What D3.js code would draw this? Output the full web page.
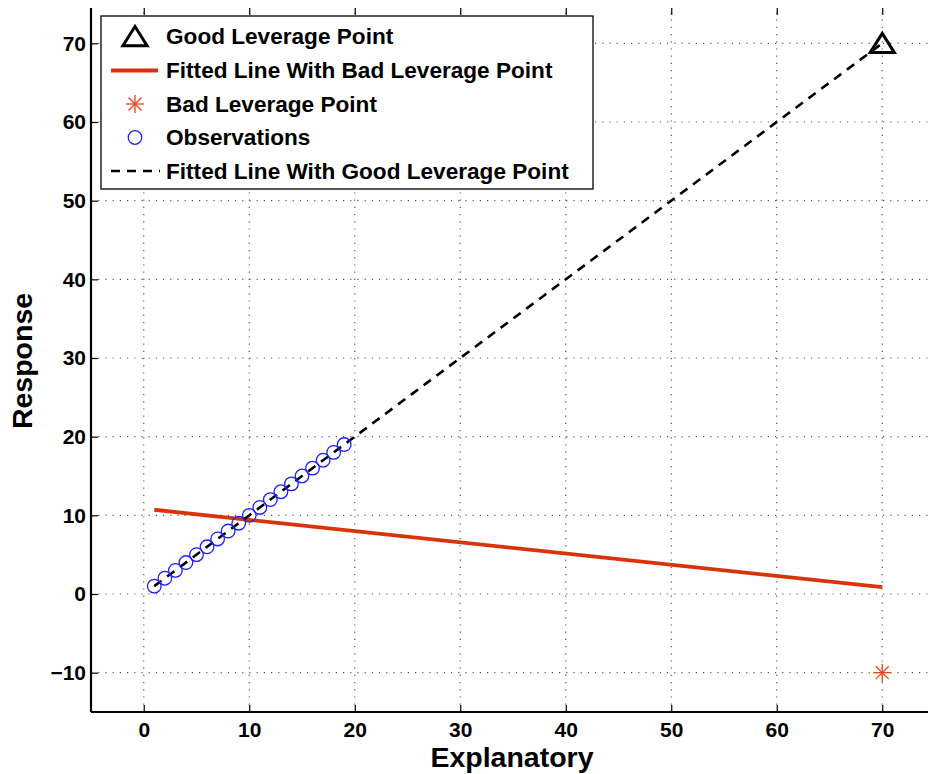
<!DOCTYPE html>
<html>
<head>
<meta charset="utf-8">
<script src="https://cdn.jsdelivr.net/npm/d3@7"></script>
<style>
  html, body { margin: 0; padding: 0; background: #fff; }
  svg { display: block; font-family: "Liberation Sans", Arial, sans-serif; }
</style>
</head>
<body>
<svg id="chart" width="928" height="774"></svg>
<script>
// Observations: x = 1..19 with response equal to x
const obsX = [1, 2, 3, 4, 5, 6, 7, 8, 9, 10, 11, 12, 13, 14, 15, 16, 17, 18, 19];
const obsY = [1, 2, 3, 4, 5, 6, 7, 8, 9, 10, 11, 12, 13, 14, 15, 16, 17, 18, 19];
// Leverage points
const goodPoint = [70, 70];
const badPoint = [70, -10];
// Fitted lines (endpoints of each least-squares fit)
const fitGoodX = [1, 70];
const fitGoodY = [1, 70];
const fitBadX = [1, 70];
const fitBadY = [10.71, 0.86];
// Axis ticks
const xTicks = [0, 10, 20, 30, 40, 50, 60, 70];
const yTicks = [-10, 0, 10, 20, 30, 40, 50, 60, 70];
const legendLabels = [
  "Good Leverage Point",
  "Fitted Line With Bad Leverage Point",
  "Bad Leverage Point",
  "Observations",
  "Fitted Line With Good Leverage Point"
];

const RED = "#d9330a";
const STAR = "#e8441c";
const BLUE = "#1f1fff";
const FONT = "Liberation Sans, Arial, sans-serif";

const svg = d3.select("#chart");
const x = d3.scaleLinear().domain([-5, 75]).range([91, 935]);
const y = d3.scaleLinear().domain([-15, 75]).range([712, 4]);
const plotLeft = 91, plotBottom = 712, plotTop = 8;

// dotted grid
const grid = svg.append("g").attr("stroke", "#555").attr("stroke-width", 1.2)
  .attr("stroke-dasharray", "1.2,6");
grid.selectAll("line.gx").data(xTicks).join("line").attr("class", "gx")
  .attr("x1", d => x(d)).attr("x2", d => x(d))
  .attr("y1", plotBottom).attr("y2", plotTop);
grid.selectAll("line.gy").data(yTicks).join("line").attr("class", "gy")
  .attr("y1", d => y(d)).attr("y2", d => y(d))
  .attr("x1", plotLeft).attr("x2", 928);

// axes
const xAxis = d3.axisBottom(x).tickValues(xTicks).tickSize(-7).tickPadding(10)
  .tickFormat(d3.format("d"));
const gx = svg.append("g").attr("transform", `translate(0,${plotBottom})`).call(xAxis);
const xAxisTop = d3.axisTop(x).tickValues(xTicks).tickSize(-7).tickFormat("");
const gxt = svg.append("g").attr("transform", `translate(0,${plotTop})`).call(xAxisTop);
gxt.select(".domain").remove();

const yAxis = d3.axisLeft(y).tickValues(yTicks).tickSize(-7).tickPadding(5)
  .tickFormat(d => d < 0 ? "\u2212" + Math.abs(d) : d);
const gy = svg.append("g").attr("transform", `translate(${plotLeft},0)`).call(yAxis);

[gx, gy].forEach(g => {
  g.select(".domain").attr("stroke", "#000").attr("stroke-width", 2.2);
  g.selectAll(".tick text").attr("font-size", 21).attr("font-weight", "bold")
    .attr("fill", "#000").attr("font-family", FONT);
});
gx.select(".domain").attr("d", `M${plotLeft},0H928`);
gy.select(".domain").attr("d", `M0,${plotBottom}V${plotTop}`);
svg.selectAll(".tick line").attr("stroke", "#000").attr("stroke-width", 1.2);

// fitted line with bad leverage point
const line = d3.line().x(d => x(d[0])).y(d => y(d[1]));
svg.append("path")
  .datum(d3.zip(fitBadX, fitBadY))
  .attr("d", line).attr("fill", "none").attr("stroke", RED).attr("stroke-width", 3.8);

// fitted line with good leverage point
svg.append("path")
  .datum(d3.zip(fitGoodX, fitGoodY))
  .attr("d", line).attr("fill", "none").attr("stroke", "#000")
  .attr("stroke-width", 2.6).attr("stroke-dasharray", "9,7");

// observations
svg.append("g").selectAll("circle").data(d3.zip(obsX, obsY)).join("circle")
  .attr("cx", d => x(d[0])).attr("cy", d => y(d[1])).attr("r", 6.8)
  .attr("fill", "none").attr("stroke", BLUE).attr("stroke-width", 1.3);

// markers
function triangle(g, cx, cy, s) {
  g.append("path")
    .attr("d", `M${cx},${cy - s}L${cx + s * 1.1},${cy + s * 0.75}L${cx - s * 1.1},${cy + s * 0.75}Z`)
    .attr("fill", "none").attr("stroke", "#000").attr("stroke-width", 3)
    .attr("stroke-linejoin", "miter");
}
function asterisk(g, cx, cy, r) {
  const a = g.append("g").attr("stroke", STAR).attr("stroke-width", 1.3);
  a.append("line").attr("x1", cx - r).attr("x2", cx + r).attr("y1", cy).attr("y2", cy);
  a.append("line").attr("x1", cx).attr("x2", cx).attr("y1", cy - r).attr("y2", cy + r);
  const k = r * 0.72;
  a.append("line").attr("x1", cx - k).attr("x2", cx + k).attr("y1", cy - k).attr("y2", cy + k);
  a.append("line").attr("x1", cx - k).attr("x2", cx + k).attr("y1", cy + k).attr("y2", cy - k);
}
const marks = svg.append("g");
triangle(marks, x(goodPoint[0]), y(goodPoint[1]) + 1, 11);
asterisk(marks, x(badPoint[0]), y(badPoint[1]), 9);

// legend
const lg = svg.append("g");
lg.append("rect").attr("x", 101).attr("y", 16).attr("width", 492).attr("height", 173)
  .attr("fill", "#fff").attr("stroke", "#000").attr("stroke-width", 1.3);
const rowY = [36.5, 70.5, 104, 137.5, 171];
const symX = 135;
triangle(lg, symX, rowY[0] + 1, 11);
lg.append("line").attr("x1", 111).attr("x2", 158).attr("y1", rowY[1]).attr("y2", rowY[1])
  .attr("stroke", RED).attr("stroke-width", 3.8);
asterisk(lg, symX, rowY[2], 9);
lg.append("circle").attr("cx", symX).attr("cy", rowY[3]).attr("r", 6.8)
  .attr("fill", "none").attr("stroke", BLUE).attr("stroke-width", 1.3);
lg.append("line").attr("x1", 111).attr("x2", 160).attr("y1", rowY[4]).attr("y2", rowY[4])
  .attr("stroke", "#000").attr("stroke-width", 2.6).attr("stroke-dasharray", "9,7");
lg.selectAll("text").data(legendLabels).join("text")
  .attr("x", 166).attr("y", (d, i) => rowY[i]).attr("dy", "0.35em")
  .attr("font-size", 22.6).attr("font-weight", "bold").attr("fill", "#000")
  .text(d => d);

// axis titles
svg.append("text").attr("x", 512).attr("y", 767).attr("text-anchor", "middle")
  .attr("font-size", 28.5).attr("font-weight", "bold").text("Explanatory");
svg.append("text").attr("transform", "translate(32,361) rotate(-90)")
  .attr("text-anchor", "middle").attr("font-size", 28.5).attr("font-weight", "bold")
  .text("Response");
</script>
</body>
</html>
